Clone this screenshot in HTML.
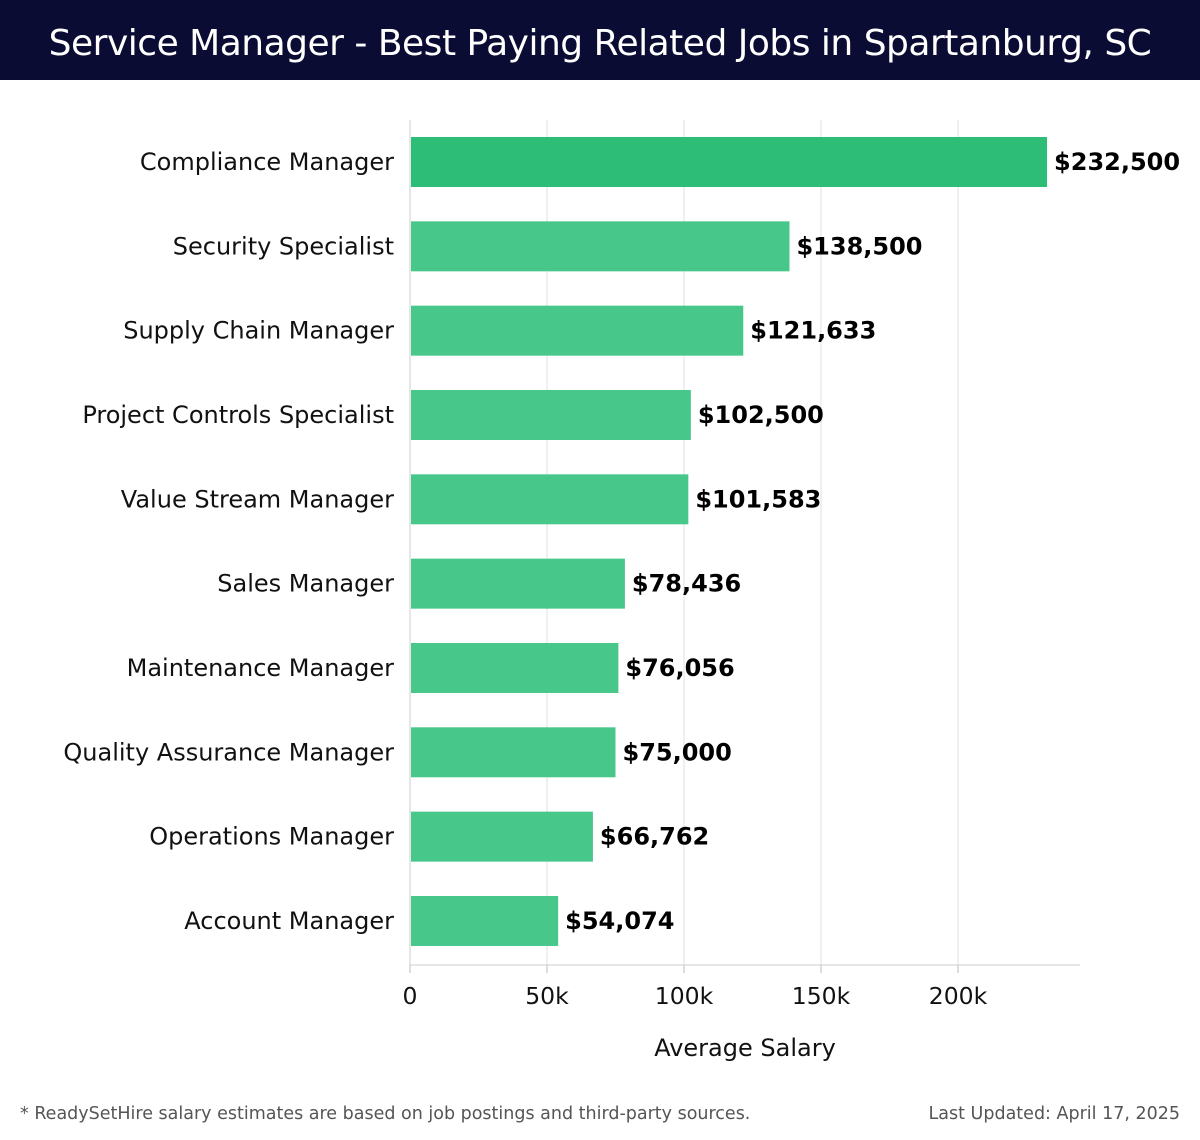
<!DOCTYPE html>
<html><head><meta charset="utf-8"><style>
body{margin:0;width:1200px;height:1140px;background:#fff;font-family:"DejaVu Sans","Liberation Sans",sans-serif;overflow:hidden}
#hdr{position:absolute;left:0;top:0;width:1200px;height:80px;background:#0b0c33;color:#fff;font-size:36px;text-align:center;line-height:88px;font-family:"DejaVu Sans","Liberation Sans",sans-serif;font-weight:normal;letter-spacing:-0.5px}
</style></head><body>
<div id="hdr">Service Manager - Best Paying Related Jobs in Spartanburg, SC</div>
<svg id="chart" width="1200" height="1140" style="position:absolute;left:0;top:0"></svg>
<script>
const categories=["Compliance Manager","Security Specialist","Supply Chain Manager","Project Controls Specialist","Value Stream Manager","Sales Manager","Maintenance Manager","Quality Assurance Manager","Operations Manager","Account Manager"];
const salaries=[232500,138500,121633,102500,101583,78436,76056,75000,66762,54074];
const valueLabels=["$232,500","$138,500","$121,633","$102,500","$101,583","$78,436","$76,056","$75,000","$66,762","$54,074"];
const tickValues=[0,50000,100000,150000,200000];
const tickLabels=["0","50k","100k","150k","200k"];
const NS="http://www.w3.org/2000/svg";
const svg=document.getElementById('chart');
const x0=410,pxPer=(958-410)/200000;
const xs=v=>x0+v*pxPer;
const yc=i=>162+i*84.33;
function mk(t,a,txt){const e=document.createElementNS(NS,t);for(const k in a)e.setAttribute(k,a[k]);if(txt!==undefined)e.textContent=txt;svg.appendChild(e);return e;}
tickValues.forEach((v,i)=>{
 const g=mk('line',{x1:xs(v),x2:xs(v),y1:120,y2:965,stroke:'#e2e2e2','stroke-width':1});
 
 
 const tk=mk('line',{x1:xs(v),x2:xs(v),y1:965,y2:973,stroke:'#bbb'});
 
 
 const t=mk('text',{x:xs(v),y:1004,'text-anchor':'middle','font-size':23.5,fill:'#111'},tickLabels[i]);
 
 
});
const ax=mk('line',{x1:410,x2:1080,y1:965,y2:965,stroke:'#ccc'});


const ay=mk('line',{x1:410,x2:410,y1:120,y2:965,stroke:'#ccc'});


categories.forEach((c,i)=>{
 const b=mk('rect',{x:x0+1,y:yc(i)-25,width:xs(salaries[i])-x0-1,height:50,fill:i===0?'#2dbd76':'#48c78b'});
 
 
 const l=mk('text',{x:394,y:yc(i)+8,'text-anchor':'end','font-size':24,fill:'#111'},c);
 
 
 const v=mk('text',{x:xs(salaries[i])+7,y:yc(i)+8,'font-size':24,'font-weight':'bold',fill:'#000'},valueLabels[i]);
 
 
});
const xt=mk('text',{x:745,y:1056,'text-anchor':'middle','font-size':24,fill:'#111'},'Average Salary');


const fn=mk('text',{x:20,y:1119,'font-size':17.5,fill:'#555'},'* ReadySetHire salary estimates are based on job postings and third-party sources.');


const up=mk('text',{x:1180,y:1119,'text-anchor':'end','font-size':17.5,fill:'#555'},'Last Updated: April 17, 2025');


</script>
</body></html>
